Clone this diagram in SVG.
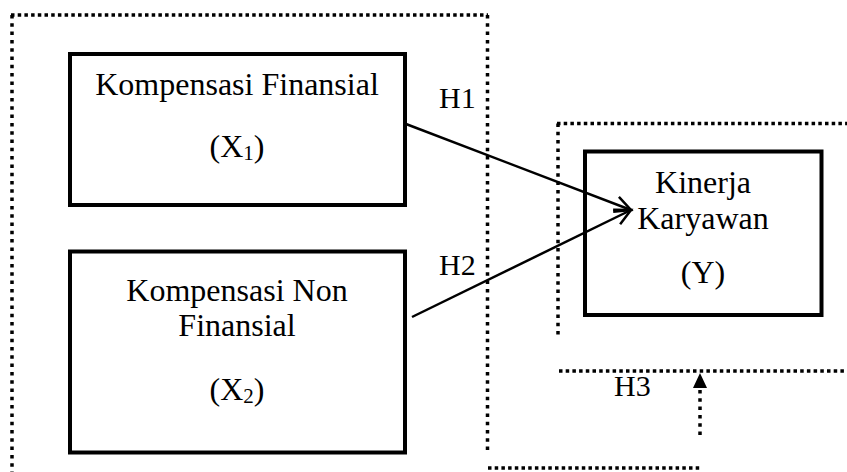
<svg xmlns="http://www.w3.org/2000/svg" width="847" height="472" viewBox="0 0 847 472">
  <style>
    .box { fill: #ffffff; stroke: #000000; stroke-width: 4; stroke-linejoin: miter; }
    .dot-h { fill: none; stroke: #000000; stroke-width: 3.5; stroke-dasharray: 3.5 3.2; }
    .dot-v { fill: none; stroke: #000000; stroke-width: 3.5; stroke-dasharray: 3.5 4.8; }
    .link { fill: none; stroke: #000000; stroke-width: 2.5; }
    .lbl { font-family: "Liberation Serif", "Times New Roman", serif; font-size: 32px; fill: #000000; text-anchor: middle; }
    .hyp { font-family: "Liberation Serif", "Times New Roman", serif; font-size: 30px; fill: #000000; }
  </style>
  <defs>
    <marker id="open-head" markerUnits="userSpaceOnUse" markerWidth="24" markerHeight="24" viewBox="-20 -12 24 24" refX="0" refY="0" orient="auto">
      <path d="M-16,-8 L0,0 L-16,8" fill="none" stroke="#000000" stroke-width="2.5" stroke-linejoin="miter"/>
    </marker>
  </defs>

  <rect width="847" height="472" fill="#ffffff"/>

  <!-- dotted grouping frames -->
  <g id="frames">
    <line class="dot-h" x1="11" y1="15" x2="488" y2="15"/>
    <line class="dot-v" x1="12" y1="15" x2="12" y2="472"/>
    <line class="dot-v" x1="487.5" y1="15" x2="487.5" y2="451"/>
    <line class="dot-h" x1="488" y1="468" x2="702" y2="468"/>
    <line class="dot-h" x1="557" y1="123.5" x2="847" y2="123.5"/>
    <line class="dot-v" x1="558" y1="123.5" x2="558" y2="337"/>
    <line class="dot-h" x1="559" y1="371" x2="847" y2="371"/>
  </g>

  <!-- X1 -->
  <g id="node-x1">
    <rect class="box" x="70" y="54" width="335" height="151"/>
    <text class="lbl" x="237" y="95">Kompensasi Finansial</text>
    <text class="lbl" x="237" y="157">(X<tspan font-size="21" dy="3">1</tspan><tspan dy="-3">)</tspan></text>
  </g>

  <!-- X2 -->
  <g id="node-x2">
    <rect class="box" x="70" y="251.5" width="335" height="201"/>
    <text class="lbl" x="237" y="301">Kompensasi Non</text>
    <text class="lbl" x="237" y="336">Finansial</text>
    <text class="lbl" x="237" y="400">(X<tspan font-size="21" dy="3">2</tspan><tspan dy="-3">)</tspan></text>
  </g>

  <!-- Y -->
  <g id="node-y">
    <rect class="box" x="585" y="151.5" width="236.5" height="163.5"/>
    <text class="lbl" x="703" y="193">Kinerja</text>
    <text class="lbl" x="703" y="229">Karyawan</text>
    <text class="lbl" x="703" y="283">(Y)</text>
  </g>

  <!-- connectors -->
  <g id="connectors">
    <line class="link" x1="406" y1="124" x2="631" y2="210" marker-end="url(#open-head)"/>
    <line class="link" x1="412" y1="317" x2="631" y2="210" marker-end="url(#open-head)"/>
    <line class="dot-v" x1="700" y1="390" x2="700" y2="437"/>
    <polygon points="700,373 693,388 707,388" fill="#000000"/>
  </g>

  <!-- hypothesis labels -->
  <g id="labels">
    <text class="hyp" x="439" y="108">H1</text>
    <text class="hyp" x="439" y="275">H2</text>
    <text class="hyp" x="614" y="396">H3</text>
  </g>
</svg>
